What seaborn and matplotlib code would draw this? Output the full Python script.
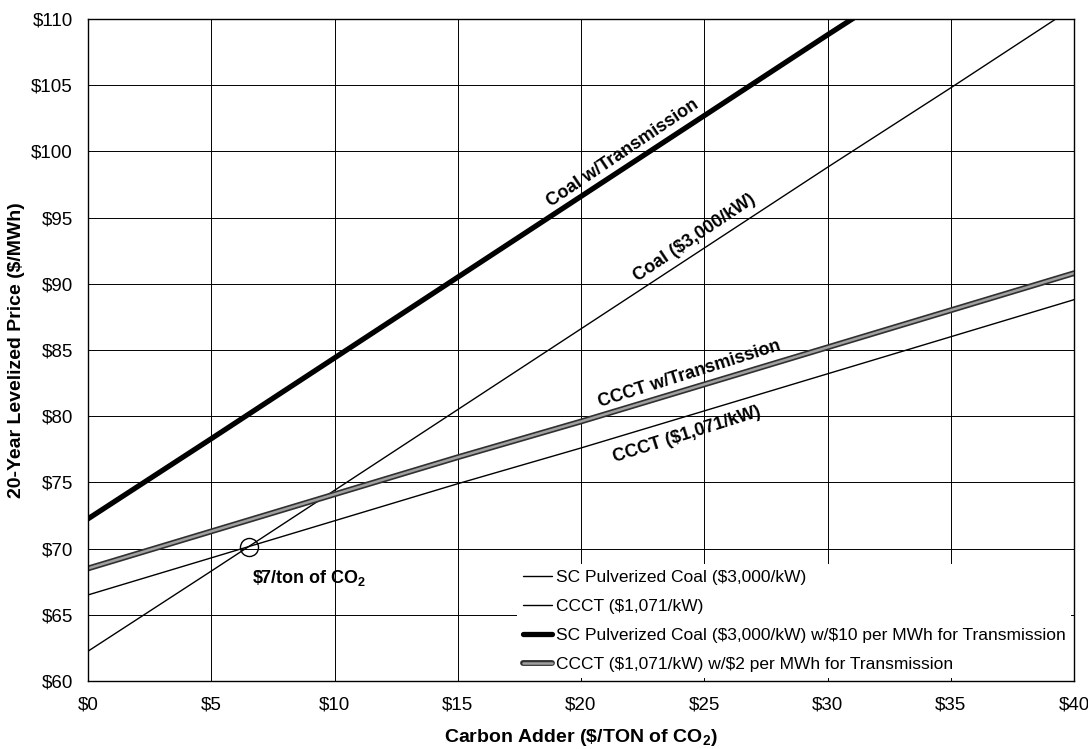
import numpy as np
import pandas as pd
import seaborn as sns
import matplotlib
import matplotlib.pyplot as plt
import matplotlib.patheffects as pe
matplotlib.use('Agg')

sns.set_theme(style="whitegrid")
plt.rcParams['font.family'] = ['Liberation Sans', 'DejaVu Sans']
plt.rcParams['mathtext.fontset'] = 'custom'
plt.rcParams['mathtext.rm'] = 'Liberation Sans'
plt.rcParams['mathtext.bf'] = 'Liberation Sans:bold'
plt.rcParams['text.color'] = 'black'
plt.rcParams['axes.labelcolor'] = 'black'
plt.rcParams['xtick.color'] = 'black'
plt.rcParams['ytick.color'] = 'black'

# values at every $5 of carbon adder
carbon_adder = [0, 5, 10, 15, 20, 25, 30, 35, 40]
coal = [62.25, 68.3, 74.4, 80.5, 86.6, 92.7, 98.8, 104.8, 110.9]
ccct = [66.5, 69.3, 72.1, 74.9, 77.6, 80.4, 83.2, 86.0, 88.8]
coal_trans = [72.25, 78.3, 84.4, 90.5, 96.6, 102.7, 108.8, 114.8, 120.9]
ccct_trans = [68.5, 71.3, 74.1, 76.9, 79.6, 82.4, 85.2, 88.0, 90.8]

x_ticks = [0, 5, 10, 15, 20, 25, 30, 35, 40]
x_tick_labels = [r'\$0', r'\$5', r'\$10', r'\$15', r'\$20', r'\$25', r'\$30', r'\$35', r'\$40']
y_ticks = [60, 65, 70, 75, 80, 85, 90, 95, 100, 105, 110]
y_tick_labels = [r'\$60', r'\$65', r'\$70', r'\$75', r'\$80', r'\$85', r'\$90', r'\$95', r'\$100', r'\$105', r'\$110']

df = pd.DataFrame({'x': carbon_adder, 'coal': coal, 'ccct': ccct,
                   'coal_trans': coal_trans, 'ccct_trans': ccct_trans})

f, ax = plt.subplots(figsize=(10.88, 7.49), dpi=100)
f.subplots_adjust(left=88/1088, right=1074/1088, top=1-19/749, bottom=1-681/749)

sns.lineplot(x='x', y='coal', data=df, ax=ax, color='black', linewidth=1.0,
             label='SC Pulverized Coal (\\$3,000/kW)')
sns.lineplot(x='x', y='ccct', data=df, ax=ax, color='black', linewidth=1.0,
             label='CCCT (\\$1,071/kW)')
sns.lineplot(x='x', y='coal_trans', data=df, ax=ax, color='black', linewidth=3.8,
             label='SC Pulverized Coal (\\$3,000/kW) w/\\$10 per MWh for Transmission')
sns.lineplot(x='x', y='ccct_trans', data=df, ax=ax, color='#a0a0a0', linewidth=1.8,
             label='CCCT (\\$1,071/kW) w/\\$2 per MWh for Transmission',
             path_effects=[pe.Stroke(linewidth=4.2, foreground='#303030'), pe.Normal()])

# break-even point between coal and CCCT
diff = np.array(coal) - np.array(ccct)
i = np.where(np.diff(np.sign(diff)))[0][0]
t = diff[i] / (diff[i] - diff[i+1])
bx = carbon_adder[i] + t * (carbon_adder[i+1] - carbon_adder[i])
by = coal[i] + t * (coal[i+1] - coal[i])
ax.plot([bx], [by], marker='o', markersize=13, markerfacecolor='none',
        markeredgecolor='black', markeredgewidth=1.0, linestyle='none')

# line annotations
ax.text(21.7, 99.9, 'Coal w/Transmission', rotation=34, ha='center', va='center',
        fontsize=13, fontweight='bold')
ax.text(24.6, 93.5, 'Coal (\\$3,000/kW)', rotation=34, ha='center', va='center',
        fontsize=13, fontweight='bold')
ax.text(24.4, 83.2, 'CCCT w/Transmission', rotation=17.5, ha='center', va='center',
        fontsize=13, fontweight='bold')
ax.text(24.3, 78.6, 'CCCT (\\$1,071/kW)', rotation=17.5, ha='center', va='center',
        fontsize=13, fontweight='bold')
ax.text(8.97, 67.8, r'\$7/ton of CO$_\mathbf{2}$', ha='center', va='center',
        fontsize=13, fontweight='bold')

ax.set_xlim(0, 40)
ax.set_ylim(60, 110)
ax.set_xticks(x_ticks)
ax.set_xticklabels(x_tick_labels, fontsize=13.5)
ax.set_yticks(y_ticks)
ax.set_yticklabels(y_tick_labels, fontsize=13.5)
ax.tick_params(axis='both', direction='out', length=5, width=0.8, color='black', pad=6)
ax.grid(True, color='black', linewidth=0.7)
for s in ax.spines.values():
    s.set_color('black')
    s.set_linewidth(1.0)

ax.set_xlabel(r'Carbon Adder (\$/TON of CO$_\mathbf{2}$)', fontsize=14, fontweight='bold', labelpad=10)
ax.set_ylabel('20-Year Levelized Price (\\$/MWh)', fontsize=14, fontweight='bold', labelpad=4)

leg = ax.legend(loc='lower right', fontsize=12.5, frameon=True, framealpha=1,
                edgecolor='white', facecolor='white', fancybox=False,
                handlelength=1.7, handletextpad=0.2, labelspacing=0.8,
                borderaxespad=0.15, borderpad=0.35)
leg.get_frame().set_linewidth(0)

plt.savefig('out.png', dpi=100)
